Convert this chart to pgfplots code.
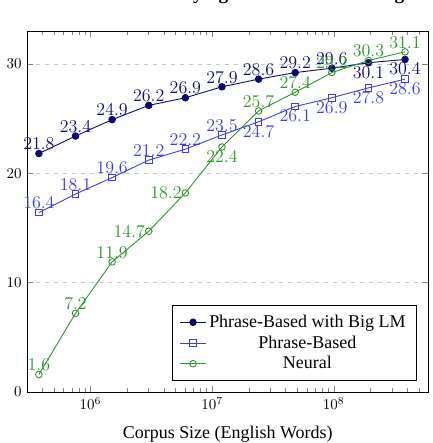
\documentclass[border=0pt]{standalone}
\usepackage{fontspec}
\setmainfont{Liberation Serif}
\usepackage{pgfplots}
\pgfplotsset{compat=1.18}

\definecolor{bigLM}{RGB}{12,12,112}
\definecolor{pbased}{RGB}{60,60,235}
\definecolor{neural}{RGB}{45,150,45}

\pgfplotsset{
  labelled/.style={
    nodes near coords,
    visualization depends on={value \thisrow{pos} \as \lblpos},
    every node near coord/.append style={anchor=\lblpos, font=\large, inner sep=2.2pt},
  },
}

\begin{document}
\begin{tikzpicture}
\begin{axis}[
  scale only axis,
  width=268pt, height=241pt,
  xmode=log,
  xmin=3e5, xmax=6e8,
  ymin=0, ymax=33,
  ytick={0,10,20,30},
  tick label style={font=\normalsize},
  ymajorgrids,
  grid style={dashed, gray!45},
  title={BLEU Scores with Varying Amounts of Training Data},
  title style={font=\fontsize{12.8}{15}\selectfont\bfseries, at={(axis description cs:0.5,1)}, anchor=base, yshift=15.3pt},
  xlabel={Corpus Size (English Words)},
  xlabel style={font=\large, at={(axis description cs:0.5,0)}, anchor=base, yshift=-30.7pt},
  legend style={at={(0.97,0.03)}, anchor=south east, cells={anchor=center}, draw=black, line width=0.6pt, font=\large, inner xsep=5pt, inner ysep=4.5pt},
  every axis plot/.append style={line width=0.6pt, mark size=2.2pt},
]
% corpus size, BLEU, label anchor
\addplot[color=bigLM, mark=*, labelled] table {
x y pos
376000 21.8 south
752000 23.4 south
1504000 24.9 south
3008000 26.2 south
6016000 26.9 south
12032000 27.9 south
24064000 28.6 south
48128000 29.2 south
96256000 29.6 south
192512000 30.1 north
385024000 30.4 north
};
\addlegendentry{Phrase-Based with Big LM}
\addplot[color=pbased, mark=square, labelled] table {
x y pos
376000 16.4 south
752000 18.1 south
1504000 19.6 south
3008000 21.2 south
6016000 22.2 south
12032000 23.5 south
24064000 24.7 north
48128000 26.1 north
96256000 26.9 north
192512000 27.8 north
385024000 28.6 north
};
\addlegendentry{Phrase-Based}
\addplot[color=neural, mark=o, labelled] table {
x y pos
376000 1.6 south
752000 7.2 south
1504000 11.9 south
3008000 14.7 east
6016000 18.2 east
12032000 22.4 north
24064000 25.7 south
48128000 27.4 south
96256000 29.2 south
192512000 30.3 south
385024000 31.1 south
};
\addlegendentry{Neural}
\coordinate (ll) at (rel axis cs:0,0);
\coordinate (ur) at (rel axis cs:1,1);
\end{axis}
\pgfresetboundingbox
\path[use as bounding box] ([shift={(-18pt,-34pt)}]ll) rectangle ([shift={(2.7pt,20.7pt)}]ur);
\end{tikzpicture}
\end{document}
